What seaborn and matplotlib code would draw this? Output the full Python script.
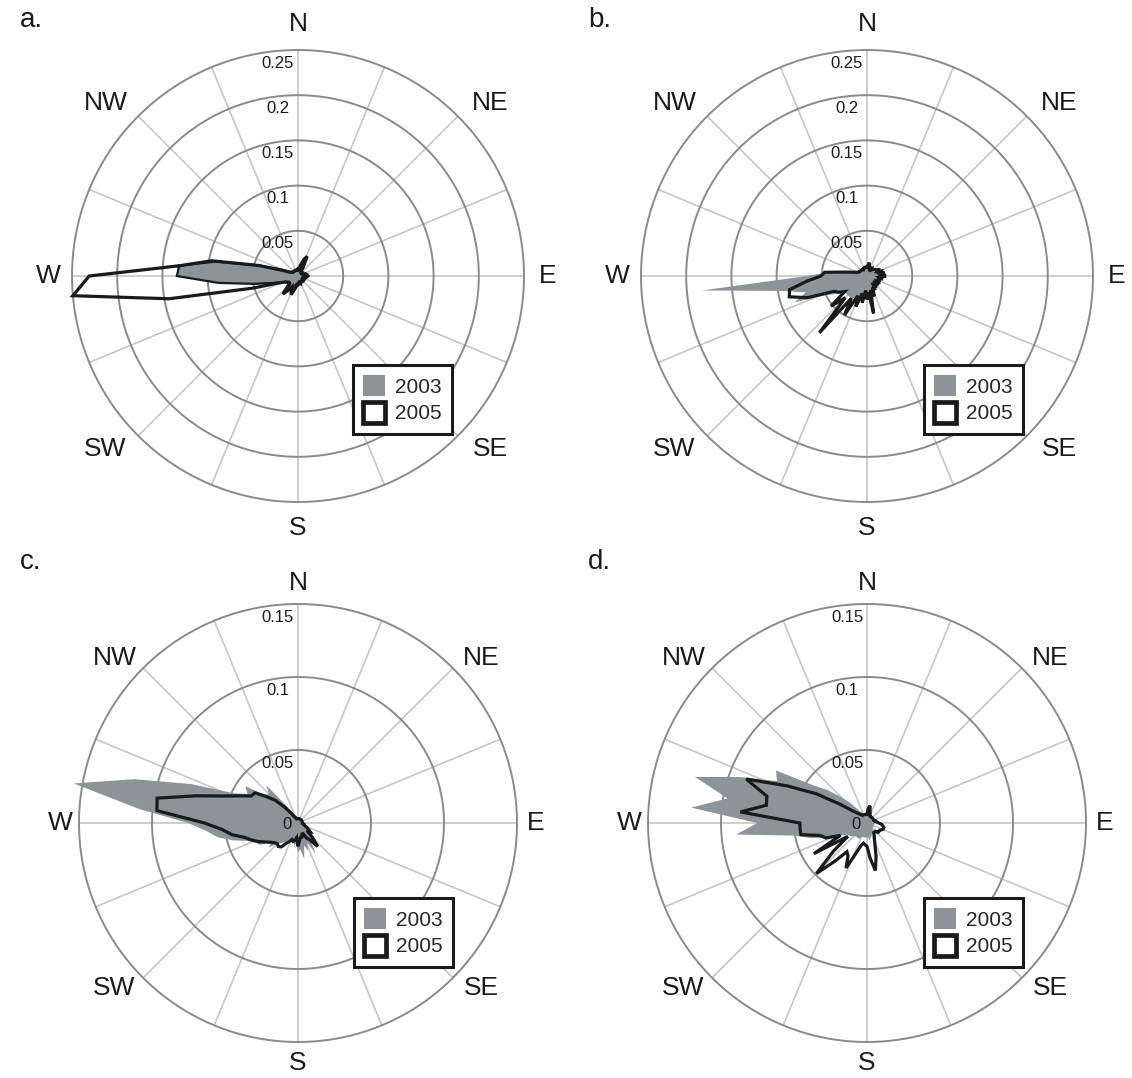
import numpy as np
import matplotlib
matplotlib.use("Agg")
import matplotlib.pyplot as plt
import matplotlib.transforms as mtransforms
from matplotlib.patches import Patch
import seaborn as sns

# ---------------- data (fraction of time per 5-degree direction bin) ----------------
bearings = np.arange(0, 360, 5)   # compass bearing in degrees, N = 0, clockwise

a_2003 = [0.006, 0.005, 0.008, 0.012, 0.017, 0.012, 0.007, 0.005, 0.004, 0.004, 0.004, 0.004,
          0.004, 0.005, 0.005, 0.006, 0.006, 0.007, 0.007, 0.007, 0.006, 0.006, 0.005, 0.005,
          0.005, 0.005, 0.006, 0.006, 0.006, 0.006, 0.006, 0.006, 0.006, 0.006, 0.006, 0.007,
          0.008, 0.008, 0.009, 0.010, 0.012, 0.014, 0.016, 0.018, 0.016, 0.013, 0.012, 0.012,
          0.013, 0.015, 0.020, 0.030, 0.050, 0.088, 0.134, 0.132, 0.092, 0.045, 0.022, 0.013,
          0.009, 0.008, 0.007, 0.007, 0.006, 0.006, 0.006, 0.006, 0.006, 0.006, 0.006, 0.006]
a_2005 = [0.008, 0.006, 0.010, 0.014, 0.020, 0.024, 0.012, 0.006, 0.005, 0.005, 0.005, 0.006,
          0.006, 0.007, 0.008, 0.009, 0.010, 0.010, 0.011, 0.010, 0.009, 0.008, 0.008, 0.007,
          0.007, 0.008, 0.008, 0.008, 0.007, 0.007, 0.007, 0.008, 0.009, 0.008, 0.008, 0.009,
          0.010, 0.010, 0.012, 0.016, 0.022, 0.018, 0.014, 0.020, 0.026, 0.016, 0.012, 0.012,
          0.014, 0.016, 0.022, 0.052, 0.145, 0.250, 0.231, 0.131, 0.097, 0.045, 0.018, 0.010,
          0.008, 0.007, 0.007, 0.007, 0.007, 0.007, 0.007, 0.007, 0.007, 0.007, 0.007, 0.007]

b_2003 = [0.008, 0.010, 0.012, 0.010, 0.008, 0.007, 0.007, 0.007, 0.007, 0.008, 0.008, 0.009,
          0.010, 0.011, 0.012, 0.013, 0.014, 0.015, 0.016, 0.015, 0.014, 0.013, 0.012, 0.012,
          0.012, 0.012, 0.012, 0.013, 0.013, 0.013, 0.014, 0.015, 0.016, 0.017, 0.018, 0.018,
          0.018, 0.018, 0.020, 0.022, 0.024, 0.026, 0.028, 0.030, 0.030, 0.030, 0.030, 0.032,
          0.040, 0.050, 0.085, 0.070, 0.095, 0.183, 0.066, 0.045, 0.020, 0.014, 0.012, 0.010,
          0.010, 0.010, 0.010, 0.010, 0.010, 0.009, 0.009, 0.008, 0.008, 0.008, 0.008, 0.008]
b_2005 = [0.010, 0.012, 0.015, 0.010, 0.008, 0.009, 0.008, 0.010, 0.009, 0.010, 0.011, 0.012,
          0.014, 0.012, 0.016, 0.014, 0.020, 0.016, 0.021, 0.014, 0.018, 0.012, 0.016, 0.012,
          0.014, 0.012, 0.016, 0.012, 0.014, 0.012, 0.018, 0.014, 0.024, 0.016, 0.042, 0.018,
          0.026, 0.016, 0.030, 0.020, 0.036, 0.024, 0.050, 0.030, 0.082, 0.034, 0.052, 0.030,
          0.036, 0.040, 0.070, 0.089, 0.087, 0.067, 0.051, 0.047, 0.025, 0.016, 0.012, 0.010,
          0.010, 0.009, 0.009, 0.009, 0.009, 0.009, 0.008, 0.009, 0.009, 0.010, 0.010, 0.010]

c_2003 = [0.004, 0.004, 0.004, 0.004, 0.004, 0.004, 0.004, 0.004, 0.004, 0.004, 0.004, 0.004,
          0.004, 0.004, 0.004, 0.004, 0.004, 0.004, 0.004, 0.004, 0.005, 0.005, 0.006, 0.007,
          0.008, 0.010, 0.012, 0.014, 0.018, 0.016, 0.024, 0.015, 0.020, 0.016, 0.025, 0.018,
          0.020, 0.014, 0.016, 0.012, 0.014, 0.012, 0.014, 0.016, 0.018, 0.020, 0.026, 0.022,
          0.030, 0.032, 0.036, 0.046, 0.056, 0.063, 0.075, 0.109, 0.156, 0.116, 0.078, 0.048,
          0.040, 0.044, 0.030, 0.028, 0.034, 0.016, 0.010, 0.008, 0.006, 0.005, 0.005, 0.004]
c_2005 = [0.003, 0.003, 0.003, 0.003, 0.003, 0.003, 0.003, 0.003, 0.003, 0.003, 0.003, 0.003,
          0.003, 0.003, 0.003, 0.003, 0.003, 0.003, 0.003, 0.003, 0.004, 0.004, 0.005, 0.006,
          0.008, 0.010, 0.008, 0.014, 0.021, 0.014, 0.012, 0.008, 0.008, 0.010, 0.010, 0.012,
          0.016, 0.010, 0.012, 0.013, 0.012, 0.014, 0.016, 0.020, 0.021, 0.020, 0.021, 0.023,
          0.026, 0.030, 0.034, 0.038, 0.046, 0.052, 0.064, 0.097, 0.098, 0.072, 0.054, 0.044,
          0.037, 0.036, 0.028, 0.022, 0.014, 0.008, 0.005, 0.004, 0.003, 0.003, 0.003, 0.003]

d_2003 = [0.006, 0.008, 0.010, 0.008, 0.006, 0.005, 0.005, 0.005, 0.005, 0.005, 0.005, 0.005,
          0.005, 0.005, 0.005, 0.005, 0.005, 0.005, 0.005, 0.005, 0.005, 0.005, 0.005, 0.005,
          0.005, 0.005, 0.005, 0.006, 0.006, 0.007, 0.008, 0.008, 0.009, 0.010, 0.012, 0.010,
          0.010, 0.010, 0.010, 0.010, 0.010, 0.012, 0.012, 0.012, 0.012, 0.013, 0.014, 0.015,
          0.016, 0.020, 0.030, 0.040, 0.050, 0.090, 0.075, 0.121, 0.097, 0.122, 0.092, 0.068,
          0.072, 0.045, 0.035, 0.025, 0.018, 0.012, 0.009, 0.008, 0.007, 0.007, 0.006, 0.006]
d_2005 = [0.006, 0.010, 0.012, 0.008, 0.006, 0.005, 0.005, 0.005, 0.005, 0.005, 0.005, 0.005,
          0.005, 0.005, 0.005, 0.006, 0.006, 0.007, 0.008, 0.010, 0.011, 0.012, 0.012, 0.011,
          0.010, 0.010, 0.010, 0.008, 0.008, 0.008, 0.010, 0.012, 0.016, 0.024, 0.033, 0.024,
          0.016, 0.015, 0.014, 0.016, 0.022, 0.034, 0.026, 0.024, 0.034, 0.049, 0.030, 0.016,
          0.042, 0.020, 0.030, 0.033, 0.046, 0.046, 0.046, 0.087, 0.070, 0.071, 0.088, 0.060,
          0.040, 0.022, 0.013, 0.010, 0.008, 0.007, 0.006, 0.006, 0.006, 0.006, 0.006, 0.006]

directions = ["N", "NE", "E", "SE", "S", "SW", "W", "NW"]
dir_bearings = [0, 48, 90, 132, 180, 228, 270, 312]
ticks_ab = [0.05, 0.1, 0.15, 0.2, 0.25]
ticks_cd = [0.05, 0.1, 0.15]
tick_text = {0.05: "0.05", 0.1: "0.1", 0.15: "0.15", 0.2: "0.2", 0.25: "0.25"}
series_names = ["2003", "2005"]
panel_letters = ["a.", "b.", "c.", "d."]

# ---------------- style ----------------
sns.set_theme(style="white")
plt.rcParams["font.family"] = ["Liberation Sans", "DejaVu Sans"]

GRAY = "#8c949a"
BLACK = "#1a1a1a"
RING = "#8a8a8a"
SPOKE = "#c6c6c6"

W, H = 1132, 1078
fig = plt.figure(figsize=(W / 100, H / 100), dpi=100)
fig.patch.set_facecolor("white")

panels = [
    dict(letter=panel_letters[0], cx=298, cy=276, ring_px=226, ticks=ticks_ab, zero=False,
         s03=a_2003, s05=a_2005, edge03=True, lxy=(20, 20), leg=(353, 365), lab_off=26),
    dict(letter=panel_letters[1], cx=867, cy=276, ring_px=226, ticks=ticks_ab, zero=False,
         s03=b_2003, s05=b_2005, edge03=False, lxy=(588, 20), leg=(924, 365), lab_off=26),
    dict(letter=panel_letters[2], cx=298, cy=823, ring_px=219, ticks=ticks_cd, zero=True,
         s03=c_2003, s05=c_2005, edge03=False, lxy=(20, 562), leg=(354, 898), lab_off=21),
    dict(letter=panel_letters[3], cx=867, cy=823, ring_px=219, ticks=ticks_cd, zero=True,
         s03=d_2003, s05=d_2005, edge03=False, lxy=(588, 562), leg=(924, 898), lab_off=21),
]

for p in panels:
    rmax = p["ticks"][-1]
    pxu = p["ring_px"] / rmax          # pixels per unit
    rplot = rmax * 1.2
    R = rplot * pxu
    ax = fig.add_axes([(p["cx"] - R) / W, (H - p["cy"] - R) / H, 2 * R / W, 2 * R / H],
                      projection="polar")
    ax.set_theta_zero_location("N")
    ax.set_theta_direction(-1)
    ax.set_ylim(0, rplot)
    ax.axis("off")

    # grid: spokes and rings
    for sb in np.arange(0, 360, 22.5):
        t = np.deg2rad(sb)
        ax.plot([t, t], [0, rmax], color=SPOKE, lw=1.2, zorder=1, solid_capstyle="butt")
    circ = np.linspace(0, 2 * np.pi, 721)
    for v in p["ticks"]:
        ax.plot(circ, np.full_like(circ, v), color=RING, lw=1.4, zorder=1.5)

    # data
    th = np.deg2rad(np.r_[bearings, bearings[0]])
    r03 = np.r_[p["s03"], p["s03"][0]]
    r05 = np.r_[p["s05"], p["s05"][0]]
    ax.fill(th, r03, facecolor=GRAY, edgecolor=BLACK if p["edge03"] else "none",
            lw=1.6 if p["edge03"] else 0, zorder=2, joinstyle="miter")
    sns.lineplot(x=th, y=r05, sort=False, estimator=None, ax=ax, color=BLACK,
                 lw=2.3, zorder=3, legend=False)
    for ln in ax.lines[-1:]:
        ln.set_solid_joinstyle("miter")
        ln.set_clip_on(False)

    # radial tick labels
    lab_tr = mtransforms.offset_copy(ax.transData, fig=fig, x=-20, y=-13, units="dots")
    for v in p["ticks"]:
        ax.text(0, v, tick_text[v], transform=lab_tr, ha="center", va="center",
                fontsize=12, color="#1a1a1a", zorder=5)
    if p["zero"]:
        z_tr = mtransforms.offset_copy(ax.transData, fig=fig, x=-11, y=-1, units="dots")
        ax.text(0, 0, "0", transform=z_tr, ha="center", va="center", fontsize=12,
                color="#1a1a1a", zorder=5)

    # direction labels
    for name, b in zip(directions, dir_bearings):
        if b in (90, 270):
            off = p["lab_off"] - 2
        elif b % 90 == 0:
            off = p["lab_off"]
        else:
            off = p["lab_off"] + 7
        ax.text(np.deg2rad(b), (p["ring_px"] + off) / pxu, name, ha="center", va="center",
                fontsize=19, color="#1a1a1a", clip_on=False)

    # panel letter
    fig.text(p["lxy"][0] / W, 1 - p["lxy"][1] / H, p["letter"], ha="left", va="center",
             fontsize=20, color="#1a1a1a")

    # legend
    handles = [Patch(facecolor=GRAY, edgecolor="none"),
               Patch(facecolor="white", edgecolor=BLACK, linewidth=3.4)]
    leg = ax.legend(handles, series_names, loc="upper left",
                    bbox_to_anchor=(p["leg"][0] / W, 1 - p["leg"][1] / H),
                    bbox_transform=fig.transFigure, frameon=True, fancybox=False,
                    edgecolor=BLACK, framealpha=1, fontsize=15, handlelength=1.05,
                    handleheight=1.15, handletextpad=0.45, borderpad=0.5,
                    labelspacing=0.25, borderaxespad=0)
    leg.get_frame().set_linewidth(2.2)
    leg.set_zorder(10)

fig.savefig("out.png", dpi=100, facecolor="white")
